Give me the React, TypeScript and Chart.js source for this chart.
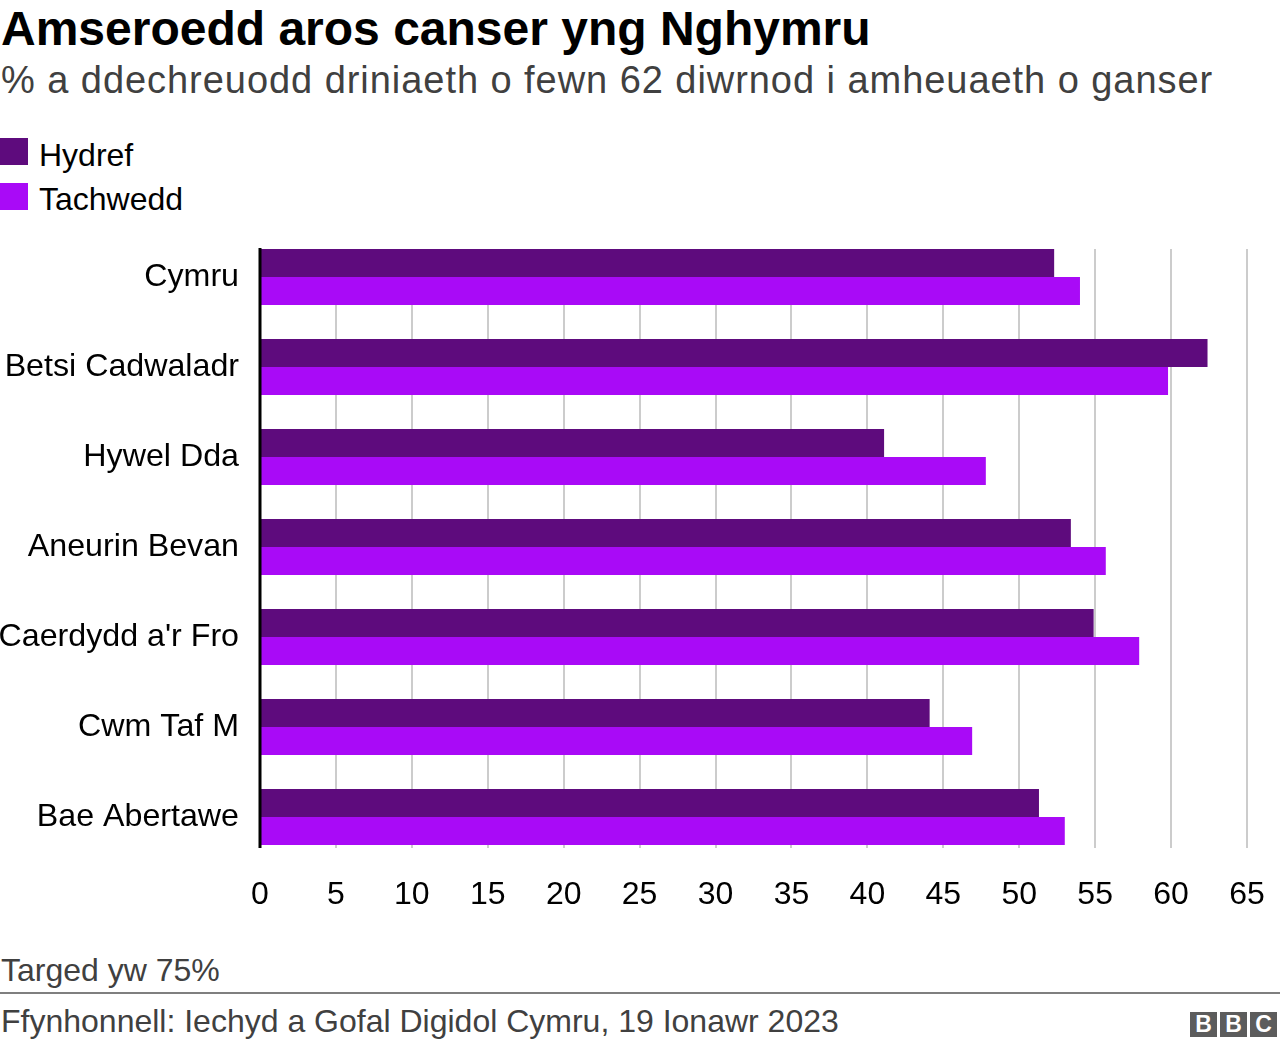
import React, { useEffect, useRef } from "react";
import { Chart, registerables } from "chart.js";

Chart.register(...registerables);

const TITLE = "Amseroedd aros canser yng Nghymru";
const SUBTITLE = "% a ddechreuodd driniaeth o fewn 62 diwrnod i amheuaeth o ganser";
const NOTE = "Targed yw 75%";
const SOURCE = "Ffynhonnell: Iechyd a Gofal Digidol Cymru, 19 Ionawr 2023";

const categories = [
  "Cymru",
  "Betsi Cadwaladr",
  "Hywel Dda",
  "Aneurin Bevan",
  "Caerdydd a'r Fro",
  "Cwm Taf M",
  "Bae Abertawe",
];
const seriesNames = ["Hydref", "Tachwedd"];
const hydref = [52.3, 62.4, 41.1, 53.4, 54.9, 44.1, 51.3];
const tachwedd = [54.0, 59.8, 47.8, 55.7, 57.9, 46.9, 53.0];
const seriesColors = ["#5e0b7d", "#a90af7"];
const xMin = 0;
const xMax = 65;
const xStep = 5;

const CATEGORY_PCT = 0.622;
const FONT = "'Liberation Sans', Arial, Helvetica, sans-serif";

function barExtent(chart: any) {
  const y = chart.scales.y;
  const step = y.getPixelForValue(1) - y.getPixelForValue(0);
  const half = (step * CATEGORY_PCT) / 2;
  return {
    top: y.getPixelForValue(0) - half,
    bottom: y.getPixelForValue(categories.length - 1) + half,
  };
}

const gridPlugin = {
  id: "customGrid",
  beforeDatasetsDraw(chart: any) {
    const { ctx, scales } = chart;
    const x = scales.x;
    const { top, bottom } = barExtent(chart);
    ctx.save();
    ctx.strokeStyle = "#cccccc";
    ctx.lineWidth = 2;
    x.ticks.forEach((t: any) => {
      if (t.value === xMin) return;
      const px = Math.round(x.getPixelForValue(t.value));
      ctx.beginPath();
      ctx.moveTo(px, top);
      ctx.lineTo(px, bottom + 3);
      ctx.stroke();
    });
    ctx.restore();
  },
  afterDatasetsDraw(chart: any) {
    const { ctx, scales } = chart;
    const x = scales.x;
    const { top, bottom } = barExtent(chart);
    const px = x.getPixelForValue(xMin);
    ctx.save();
    ctx.strokeStyle = "#000000";
    ctx.lineWidth = 3;
    ctx.beginPath();
    ctx.moveTo(px, top - 1);
    ctx.lineTo(px, bottom + 3);
    ctx.stroke();
    ctx.restore();
  },
};

function ChartCanvas() {
  const ref = useRef<HTMLCanvasElement | null>(null);
  useEffect(() => {
    if (!ref.current) return;
    const chart = new Chart(ref.current, {
      type: "bar",
      data: {
        labels: categories,
        datasets: [
          {
            label: seriesNames[0],
            data: hydref,
            backgroundColor: seriesColors[0],
            categoryPercentage: CATEGORY_PCT,
            barPercentage: 1,
          },
          {
            label: seriesNames[1],
            data: tachwedd,
            backgroundColor: seriesColors[1],
            categoryPercentage: CATEGORY_PCT,
            barPercentage: 1,
          },
        ],
      },
      options: {
        indexAxis: "y",
        animation: false,
        responsive: true,
        maintainAspectRatio: false,
        layout: { padding: { left: 0, right: 33, top: 0, bottom: 0 } },
        plugins: {
          legend: { display: false },
          tooltip: { enabled: false },
          title: { display: false },
        },
        scales: {
          x: {
            type: "linear",
            min: xMin,
            max: xMax,
            grid: { display: false, drawTicks: false },
            border: { display: false },
            ticks: {
              stepSize: xStep,
              color: "#000000",
              padding: 14,
              font: { family: FONT, size: 32 },
            },
            afterFit(scale: any) {
              scale.height = 60;
            },
          },
          y: {
            type: "category",
            grid: { display: false, drawTicks: false },
            border: { display: false },
            ticks: {
              color: "#000000",
              padding: 21,
              font: { family: FONT, size: 32.2 },
            },
            afterFit(scale: any) {
              scale.width = 260;
              scale.paddingTop = 0;
              scale.paddingBottom = 0;
            },
          },
        },
      },
      plugins: [gridPlugin],
    } as any);
    return () => chart.destroy();
  }, []);
  return <canvas ref={ref} />;
}

export default function App() {
  const abs = (o: React.CSSProperties): React.CSSProperties => ({
    position: "absolute",
    whiteSpace: "nowrap",
    fontFamily: FONT,
    margin: 0,
    ...o,
  });
  return (
    <div
      style={{
        position: "absolute",
        left: 0,
        top: 0,
        width: 1280,
        height: 1048,
        background: "#ffffff",
        overflow: "hidden",
      }}
    >
      <div style={abs({ left: 1, top: 5, fontSize: 48, lineHeight: "48px", fontWeight: 700, color: "#000" })}>
        {TITLE}
      </div>
      <div
        style={abs({
          left: 1,
          top: 61,
          fontSize: 38,
          lineHeight: "38px",
          letterSpacing: "0.95px",
          color: "#404040",
        })}
      >
        {SUBTITLE}
      </div>
      {seriesNames.map((name, i) => (
        <React.Fragment key={name}>
          <div
            style={abs({
              left: 0,
              top: 138 + i * 45,
              width: 28,
              height: 27,
              background: seriesColors[i],
            })}
          />
          <div style={abs({ left: 39, top: 139 + i * 44, fontSize: 32, lineHeight: "32px", color: "#000" })}>
            {name}
          </div>
        </React.Fragment>
      ))}
      <div style={abs({ left: 0, top: 232, width: 1280, height: 690 })}>
        <ChartCanvas />
      </div>
      <div style={abs({ left: 1, top: 954, fontSize: 32, lineHeight: "32px", color: "#404040" })}>{NOTE}</div>
      <div style={abs({ left: 0, top: 992, width: 1280, height: 2, background: "#7f7f7f" })} />
      <div style={abs({ left: 1, top: 1005, fontSize: 32, lineHeight: "32px", color: "#404040" })}>{SOURCE}</div>
      {["B", "B", "C"].map((l, i) => (
        <div
          key={i}
          style={abs({
            left: 1190 + i * 30,
            top: 1012,
            width: 27,
            height: 25,
            background: "#5c5c5c",
            color: "#ffffff",
            fontWeight: 700,
            fontSize: 23,
            lineHeight: "25px",
            textAlign: "center",
          })}
        >
          {l}
        </div>
      ))}
    </div>
  );
}
